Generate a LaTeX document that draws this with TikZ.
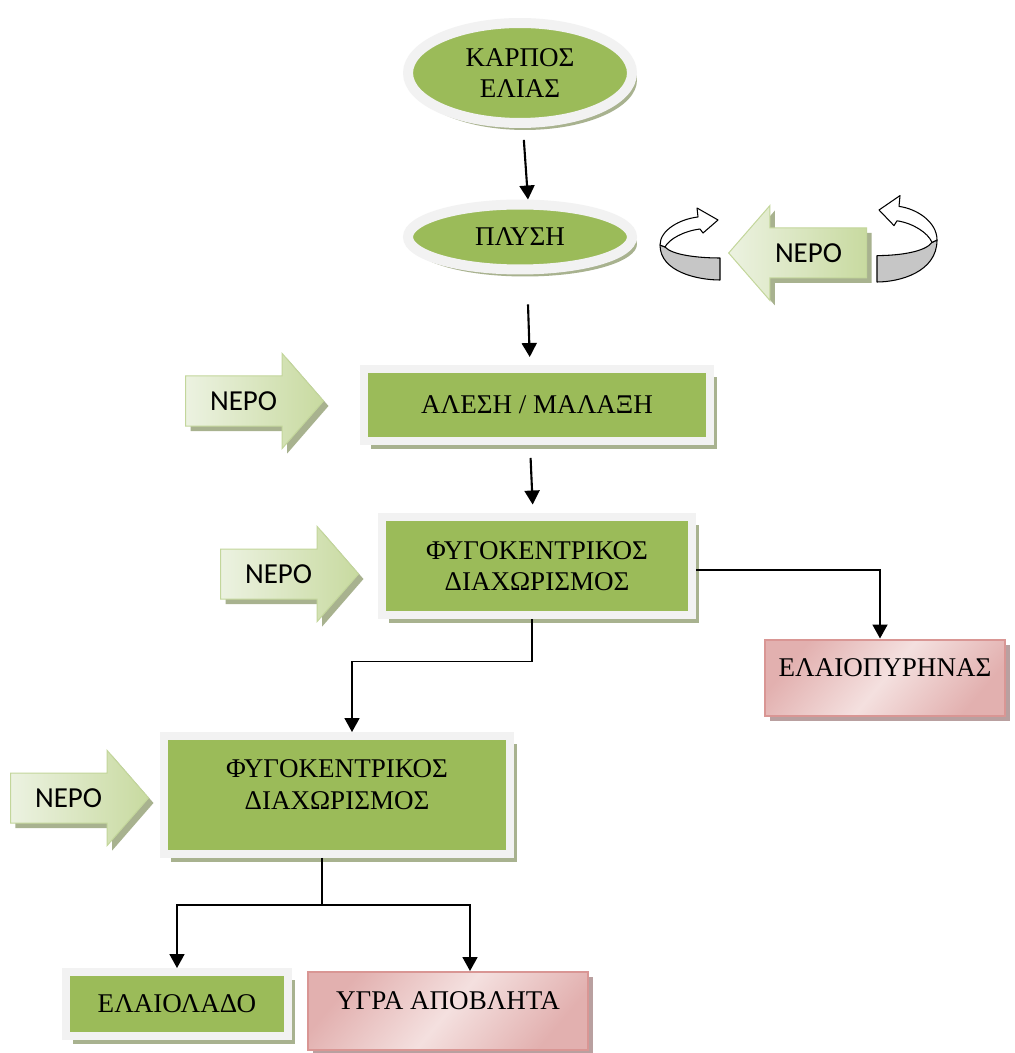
\documentclass[tikz,border=0pt]{standalone}
\usepackage{fontspec}
\setmainfont{Liberation Serif}
\newfontfamily\neroface{Carlito}
\usepackage{xcolor}
\usepackage{tikz}
\usetikzlibrary{positioning,shapes.geometric,shapes.arrows,arrows.meta,shadows}

\definecolor{olivefill}{RGB}{155,187,89}
\definecolor{framegray}{RGB}{242,242,242}
\definecolor{olivesh}{RGB}{168,178,143}
\definecolor{pinkline}{RGB}{217,150,148}
\definecolor{pinklight}{RGB}{244,224,223}
\definecolor{pinkdark}{RGB}{226,176,175}
\definecolor{pinksh}{RGB}{185,160,160}
\definecolor{nerolight}{RGB}{236,242,225}
\definecolor{neromid}{RGB}{200,218,160}
\definecolor{neroline}{RGB}{195,214,155}

\begin{document}
\begin{tikzpicture}[
    x=0.02cm, y=-0.02cm,
    greek/.style={font=\fontsize{15.4}{18}\selectfont},
    oval/.style={ellipse, draw=framegray, line width=0.2cm, fill=olivefill, greek,
                 align=center, inner sep=0pt,
                 drop shadow={shadow xshift=0.1cm, shadow yshift=-0.14cm, fill=olivesh, opacity=1}},
    stage/.style={rectangle, draw=framegray, line width=0.16cm, fill=olivefill, greek,
                  align=center, inner sep=0pt,
                  drop shadow={shadow xshift=0.14cm, shadow yshift=-0.16cm, fill=olivesh, opacity=1}},
    waste/.style={rectangle, draw=pinkline, line width=0.04cm, top color=pinkdark,
                  bottom color=pinkdark, middle color=pinklight, shading angle=50, greek,
                  align=center, text depth=0.42cm, inner sep=0pt,
                  drop shadow={shadow xshift=0.1cm, shadow yshift=-0.1cm, fill=pinksh, opacity=1}},
    water/.style={single arrow, draw=neroline, line width=0.02cm, left color=nerolight,
                  right color=neromid, single arrow head extend=0.45cm,
                  single arrow tip angle=98, minimum height=2.76cm, inner ysep=0.3cm,
                  font=\neroface\fontsize{16.5}{19}\selectfont,
                  drop shadow={shadow xshift=0.1cm, shadow yshift=-0.1cm, fill=olivesh, opacity=1}},
    link/.style={-{Triangle[length=0.28cm,width=0.3cm]}, line width=1.2pt},
    washloop/.pic={
        \draw[fill=gray!45, line width=0.6pt, line join=round]
            (30,13) -- (30,35) .. controls (8,35) and (-30,27) .. (-30,0)
            -- (-25,2) .. controls (-18,10) and (8,13) .. (30,13) -- cycle;
        \draw[fill=white, line width=0.6pt, line join=round]
            (-30,0) .. controls (-30,-15) and (-10,-26) .. (8,-28) -- (7,-37) -- (28,-25)
            -- (13,-12) -- (10,-16) .. controls (-6,-14) and (-21,-6) .. (-25,2) -- cycle;
    }
]
\fill[white] (0,0) rectangle (1014,1053);

% Fruit and washing
\node[oval, minimum width=4.48cm, minimum height=2cm] (karpos) at (520,73) {ΚΑΡΠΟΣ\\ΕΛΙΑΣ};
\node[oval, minimum width=4.48cm, minimum height=1.3cm] (plysi) at (520,237) {ΠΛΥΣΗ};
\node[water, shape border rotate=180, anchor=tip] (nero0) at (728,253) {ΝΕΡΟ};
\pic at (690,245) {washloop};
\pic[xscale=-1, yscale=1.2] at (907,240) {washloop};

% Crushing / malaxing
\node[stage, minimum width=6.94cm, minimum height=1.44cm] (alesi) at (537,405) {ΑΛΕΣΗ / ΜΑΛΑΞΗ};
\node[water, anchor=tail] (nero1) at (185,401) {ΝΕΡΟ};

% First centrifuge
\node[stage, minimum width=6.22cm, minimum height=1.98cm] (fygo1) at (537,566) {ΦΥΓΟΚΕΝΤΡΙΚΟΣ\\ΔΙΑΧΩΡΙΣΜΟΣ};
\node[water, anchor=tail] (nero2) at (220,574) {ΝΕΡΟ};
\node[waste, minimum width=4.8cm, minimum height=1.54cm] (pyrinas) at (885,678) {ΕΛΑΙΟΠΥΡΗΝΑΣ};

% Second centrifuge
\node[stage, minimum width=6.94cm, minimum height=2.36cm, text depth=0.42cm] (fygo2) at (337,795) {ΦΥΓΟΚΕΝΤΡΙΚΟΣ\\ΔΙΑΧΩΡΙΣΜΟΣ};
\node[water, anchor=tail] (nero3) at (10,798) {ΝΕΡΟ};

% Products
\node[stage, minimum width=4.44cm, minimum height=1.28cm] (ladi) at (177,1004) {ΕΛΑΙΟΛΑΔΟ};
\node[waste, minimum width=5.6cm, minimum height=1.56cm] (apovlita) at (448,1011) {ΥΓΡΑ ΑΠΟΒΛΗΤΑ};

% Arrows
\draw[link, shorten <=0.24cm] ([xshift=0.06cm]karpos.south) -- ([xshift=0.16cm]plysi.north);
\draw[link, shorten <=0.6cm, shorten >=0.16cm] ([xshift=0.14cm]plysi.south) -- ([xshift=-0.14cm]alesi.north);
\draw[link, shorten <=0.26cm, shorten >=0.16cm] ([xshift=-0.14cm]alesi.south) -- ([xshift=-0.08cm]fygo1.north);
\draw[link, line width=1pt] ([yshift=-0.08cm]fygo1.east) -| ([xshift=-0.1cm]pyrinas.north);
\draw[link, line width=1pt] ([xshift=-0.1cm]fygo1.south) -- ++(0,42) -| ([xshift=0.3cm]fygo2.north);
\draw[line width=1pt] ([xshift=-0.3cm]fygo2.south) -- ++(0,47) coordinate (split);
\draw[link, line width=1pt] (split) -| (ladi.north);
\draw[link, line width=1pt] (split) -| ([xshift=0.44cm]apovlita.north);

\end{tikzpicture}
\end{document}
